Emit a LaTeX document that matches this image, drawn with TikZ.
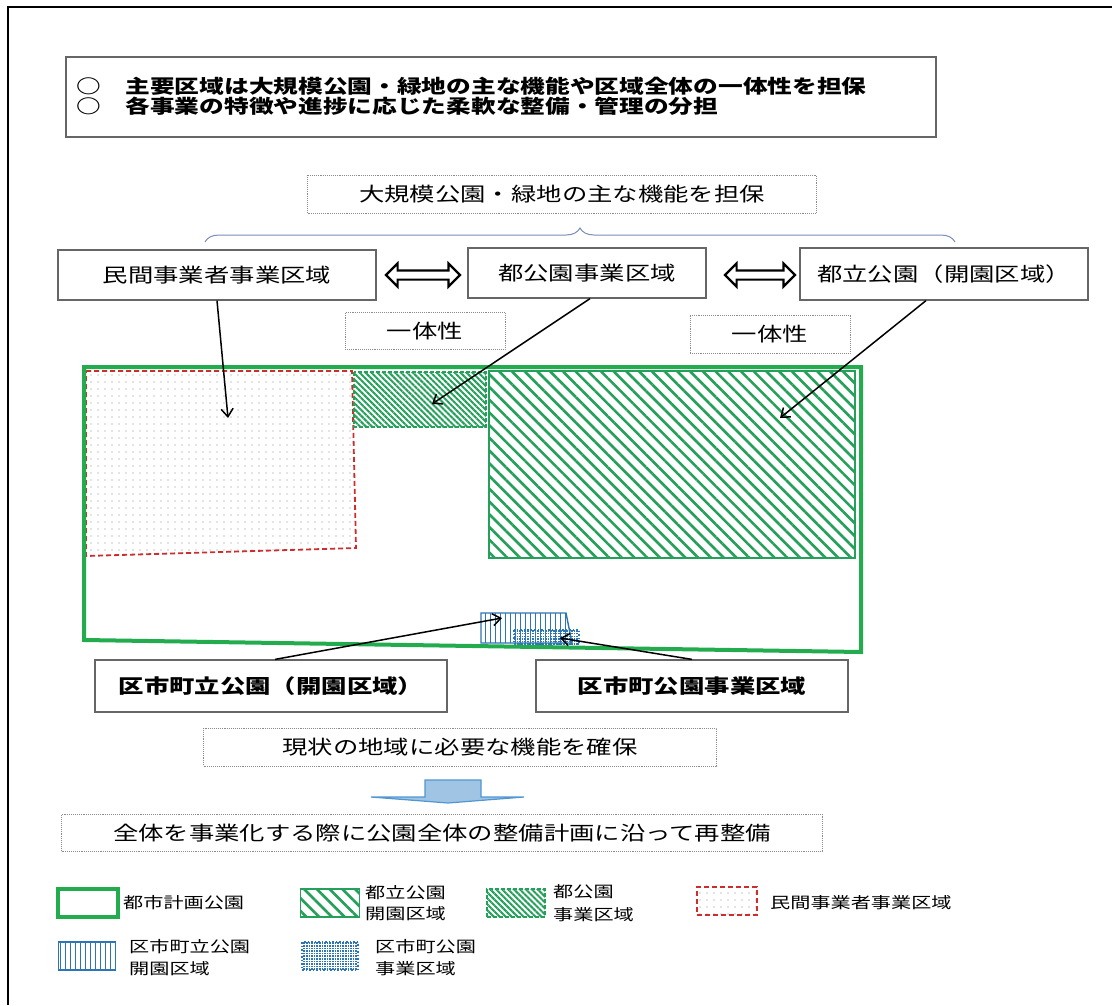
\documentclass[tikz,border=0pt]{standalone}
\usepackage{fontspec}
\setmainfont{Noto Sans CJK JP}[FakeStretch=1.3]
\usetikzlibrary{arrows.meta, patterns.meta, shapes.arrows, decorations.pathreplacing}
\definecolor{parkgreen}{RGB}{34,172,78}
\definecolor{hatchgreen}{RGB}{36,160,90}
\definecolor{privred}{RGB}{205,45,45}
\definecolor{wardblue}{RGB}{46,117,182}
\definecolor{arrowfill}{RGB}{160,196,228}
\definecolor{arrowedge}{RGB}{80,150,210}
\definecolor{bracecol}{RGB}{120,140,185}
\tikzstyle{box} = [rectangle, draw=black!60, line width=1.2pt, fill=white,
                   text centered, font=\fontsize{19.5}{22}\selectfont]
\tikzstyle{dotbox} = [rectangle, draw=black!45, densely dotted, line width=0.9pt,
                      fill=white, text centered, font=\fontsize{19.5}{22}\selectfont]
\tikzstyle{legendtext} = [anchor=west, align=left, inner sep=0pt,
                          font=\fontsize{15.5}{22}\selectfont]
\tikzstyle{arrow} = [line width=1.5pt, -{Straight Barb[length=8pt, width=12pt]}]
\tikzstyle{twoway} = [double arrow, draw, line width=2.2pt, fill=white, inner sep=3.5pt,
                      double arrow head extend=7pt, minimum height=74pt]
\tikzstyle{citypark} = [draw=parkgreen, line width=4pt]
\tikzstyle{metroopen} = [draw=hatchgreen, line width=1.2pt, pattern color=hatchgreen,
                         pattern={Lines[angle=-45, distance=9pt, line width=2.6pt]}]
\tikzstyle{metroplan} = [draw=hatchgreen, line width=2.5pt, dash pattern=on 4pt off 2pt,
                         pattern color=hatchgreen,
                         pattern={Lines[angle=-45, distance=4.2pt, line width=2pt]}]
\tikzstyle{private} = [draw=privred, line width=1.8pt, dash pattern=on 5pt off 3pt,
                       pattern color=black!45,
                       pattern={Dots[radius=0.7pt, distance=7pt]}]
\tikzstyle{wardopen} = [draw=wardblue, line width=1.4pt, pattern color=wardblue,
                        pattern={Lines[angle=90, distance=5pt, line width=1pt]}]
\tikzstyle{wardplan} = [draw=wardblue, line width=2.5pt, dash pattern=on 1.5pt off 2pt,
                        pattern color=wardblue,
                        pattern={Lines[angle=90, distance=2.6pt, line width=1.5pt]}]
\newcommand{\drawSwatch}[4]
{
    \node (#1) [#2, minimum width=#4, minimum height=28pt, inner sep=0pt] at (#3) {};
}

\begin{document}
\begin{tikzpicture}[x=1pt, y=-1pt]
\useasboundingbox (0,0) rectangle (1112,1005);
\draw [line width=2.5pt] (1112,7) -- (8,7) -- (8,1005);

\node (summary) [rectangle, draw=black!60, line width=1.2pt, minimum width=870pt,
                 minimum height=80pt] at (501,97) {};
\node (lead) [anchor=west, align=left, inner sep=0pt,
              font=\bfseries\fontsize{19}{20}\selectfont] at (76,96)
      {○　主要区域は大規模公園・緑地の主な機能や区域全体の一体性を担保\\
       ○　各事業の特徴や進捗に応じた柔軟な整備・管理の分担};

\node (function) [dotbox, minimum width=509pt, minimum height=38pt] at (562,194)
      {大規模公園・緑地の主な機能を担保};
\draw [bracecol, line width=1pt, decorate, decoration={brace, amplitude=14pt}]
      (205,242) -- (955,242);

\node (minkan) [box, minimum width=318pt, minimum height=50pt] at (217,275)
      {民間事業者事業区域};
\node (tokoen) [box, minimum width=238pt, minimum height=50pt] at (587,273)
      {都公園事業区域};
\node (toritsu) [box, minimum width=288pt, minimum height=52pt] at (944,274)
      {都立公園（開園区域）};
\node (linkL) [twoway] at (423,275) {};
\node (linkR) [twoway, minimum height=70pt] at (760,275) {};

\node (unityL) [dotbox, minimum width=160pt, minimum height=37pt] at (425,331) {一体性};
\node (unityR) [dotbox, minimum width=160pt, minimum height=38pt] at (770,334) {一体性};

\draw [private] (86,371) -- (352,371) -- (356,548) -- (86,556) -- cycle;
\draw [metroplan] (354,372) rectangle (486,427);
\draw [metroopen] (489,371) rectangle (855,558);
\draw [wardopen] (481,613) -- (566,613) -- (572,643) -- (481,643) -- cycle;
\draw [wardplan] (514,630) rectangle (579,644);
\draw [citypark] (84,367) -- (861,367) -- (861,652) -- (84,640) -- cycle;

\coordinate (minkanpt) at (228,418);
\coordinate (tokoenpt) at (432,404);
\coordinate (toritsupt) at (780,418);
\coordinate (kuritsupt) at (502,618);
\coordinate (kujigyopt) at (560,638);
\draw [arrow] (minkan.south) -- (minkanpt);
\draw [arrow] ([xshift=3pt]tokoen.south) -- (tokoenpt);
\draw [arrow] ([xshift=-18pt]toritsu.south) -- (toritsupt);

\node (kuritsu) [box, font=\bfseries\fontsize{19.5}{22}\selectfont,
                 minimum width=352pt, minimum height=52pt] at (271,686)
      {区市町立公園（開園区域）};
\node (kujigyo) [box, font=\bfseries\fontsize{19.5}{22}\selectfont,
                 minimum width=312pt, minimum height=52pt] at (692,686)
      {区市町公園事業区域};
\draw [arrow] ([xshift=4pt]kuritsu.north) -- (kuritsupt);
\draw [arrow] (kujigyo.north) -- (kujigyopt);

\node (local) [dotbox, minimum width=513pt, minimum height=38pt] at (460,747)
      {現状の地域に必要な機能を確保};
\draw [arrowedge, fill=arrowfill, line width=1.2pt]
      (425,780) -- (481,780) -- (481,797) -- (524,797) -- (448,803)
      -- (371,797) -- (425,797) -- cycle;
\node (redo) [dotbox, minimum width=761pt, minimum height=37pt] at (442,833)
      {全体を事業化する際に公園全体の整備計画に沿って再整備};

\drawSwatch{lgcity}{citypark}{88,903}{60pt}
\node (lgcitytxt) [legendtext] at (123,903) {都市計画公園};
\drawSwatch{lgtoritsu}{metroopen}{330,903}{59pt}
\node (lgtoritsutxt) [legendtext, font=\fontsize{15.5}{21}\selectfont] at (365,903)
      {都立公園\\開園区域};
\drawSwatch{lgtokoen}{metroplan}{516,903}{58pt}
\node (lgtokoentxt) [legendtext, font=\fontsize{15.5}{23}\selectfont] at (553,903)
      {都公園\\事業区域};
\drawSwatch{lgminkan}{private}{727,901}{60pt}
\node (lgminkantxt) [legendtext] at (770,903) {民間事業者事業区域};
\drawSwatch{lgkuritsu}{wardopen}{87,956}{57pt}
\node (lgkuritsutxt) [legendtext] at (129,958) {区市町立公園\\開園区域};
\drawSwatch{lgkujigyo}{wardplan}{330,956}{56pt}
\node (lgkujigyotxt) [legendtext] at (375,958) {区市町公園\\事業区域};
\end{tikzpicture}
\end{document}
